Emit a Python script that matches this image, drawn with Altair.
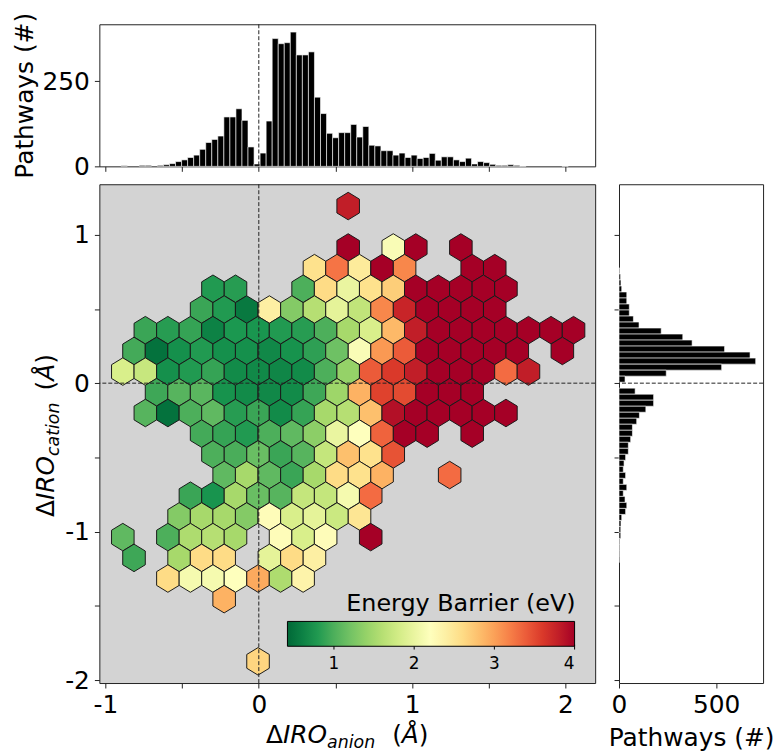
import altair as alt
import pandas as pd

FONT = "DejaVu Sans"

# ---------------- data ----------------
# Top histogram of ΔIRO_anion: uniform bins (first bin centre, bin width) and counts
top_first_center = -0.878
top_bin_width = 0.0394
top_counts = [2, 0, 0, 3, 3, 0, 3, 5, 8, 14,
              19, 26, 33, 50, 70, 79, 89, 145, 145, 169,
              135, 57, 7, 39, 133, 375, 360, 363, 394, 327,
              327, 336, 203, 155, 97, 84, 99, 99, 123, 86,
              117, 62, 60, 46, 46, 33, 39, 26, 33, 23,
              26, 38, 18, 28, 28, 19, 14, 24, 7, 14,
              11, 6, 3, 3, 5, 3, 1, 0, 0, 0,
              0, 0, 0, 1]

# Right histogram of ΔIRO_cation: bins from the top down
right_first_center = 0.756
right_bin_width = 0.0405
right_counts = [3, 8, 10, 14, 40, 40, 53, 53, 74, 103,
                217, 328, 376, 543, 674, 703, 528, 243, 31, 0,
                83, 178, 178, 138, 105, 91, 69, 69, 60, 48,
                48, 34, 26, 22, 34, 22, 40, 22, 31, 40,
                34, 14, 10, 9, 9, 3, 2, 2, 1]

# Hexbin cells: one row per hexagon row (centre y), centre x values and energy barrier (eV)
hex_rows_y = [1.193, 0.914, 0.775, 0.636, 0.496, 0.357, 0.217, 0.078, -0.061, -0.201,
              -0.340, -0.480, -0.619, -0.758, -0.898, -1.037, -1.177, -1.316, -1.455, -1.874]
hex_rows_x = [
    [0.583],
    [0.583, 0.877, 1.024, 1.318],
    [0.363, 0.510, 0.657, 0.804, 0.951, 1.392, 1.539],
    [-0.299, -0.152, 0.289, 0.436, 0.583, 0.730, 0.877, 1.024, 1.171, 1.318, 1.465, 1.612],
    [-0.373, -0.226, -0.079, 0.069, 0.216, 0.363, 0.510, 0.657, 0.804, 0.951, 1.098, 1.245, 1.392, 1.539],
    [-0.740, -0.593, -0.446, -0.299, -0.152, -0.005, 0.142, 0.289, 0.436, 0.583, 0.730, 0.877, 1.024,
     1.171, 1.318, 1.465, 1.612, 1.759, 1.906, 2.053],
    [-0.814, -0.667, -0.520, -0.373, -0.226, -0.079, 0.069, 0.216, 0.363, 0.510, 0.657, 0.804, 0.951,
     1.098, 1.245, 1.392, 1.539, 1.686, 1.980],
    [-0.887, -0.740, -0.593, -0.446, -0.299, -0.152, -0.005, 0.142, 0.289, 0.436, 0.583, 0.730, 0.877,
     1.024, 1.171, 1.318, 1.465, 1.612, 1.759],
    [-0.667, -0.520, -0.373, -0.226, -0.079, 0.069, 0.216, 0.363, 0.510, 0.657, 0.804, 0.951, 1.098,
     1.245, 1.392],
    [-0.740, -0.593, -0.446, -0.299, -0.152, -0.005, 0.142, 0.289, 0.436, 0.583, 0.730, 0.877, 1.024,
     1.171, 1.318, 1.465, 1.612],
    [-0.373, -0.226, -0.079, 0.069, 0.216, 0.363, 0.510, 0.657, 0.804, 0.951, 1.098, 1.392],
    [-0.299, -0.152, -0.005, 0.142, 0.289, 0.436, 0.583, 0.730, 0.877],
    [-0.226, -0.079, 0.069, 0.216, 0.363, 0.510, 0.657, 0.804, 1.245],
    [-0.446, -0.299, -0.152, -0.005, 0.142, 0.289, 0.436, 0.583, 0.730],
    [-0.520, -0.373, -0.226, -0.079, 0.069, 0.216, 0.363, 0.510, 0.657],
    [-0.887, -0.593, -0.446, -0.299, -0.152, 0.142, 0.289, 0.436, 0.730],
    [-0.814, -0.520, -0.373, -0.226, 0.069, 0.216, 0.363],
    [-0.593, -0.446, -0.299, -0.152, -0.005, 0.142, 0.289],
    [-0.226],
    [-0.005],
]
hex_rows_e = [
    [3.8],
    [4.0, 2.15, 4.0, 4.0],
    [2.55, 3.25, 2.45, 4.0, 3.15, 4.0, 4.0],
    [0.8, 0.82, 1.0, 2.6, 2.0, 2.55, 2.7, 4.0, 4.0, 4.0, 4.0, 4.0],
    [0.9, 0.8, 0.55, 2.4, 1.3, 1.6, 1.95, 1.68, 3.15, 3.75, 4.0, 4.0, 4.0, 4.0],
    [0.9, 0.82, 0.88, 0.62, 0.78, 0.76, 0.8, 0.82, 1.0, 1.5, 1.85, 2.85, 3.8,
     4.0, 4.0, 4.0, 4.0, 4.0, 4.0, 4.0],
    [0.95, 0.5, 0.72, 0.8, 0.72, 0.72, 0.66, 0.74, 0.85, 1.18, 2.15, 3.05, 3.4,
     4.0, 4.0, 4.0, 4.0, 4.0, 4.0],
    [1.85, 1.72, 0.72, 0.8, 0.88, 0.68, 0.67, 0.65, 0.68, 1.0, 1.4, 3.4, 3.6,
     3.8, 4.0, 4.0, 4.0, 3.3, 3.8],
    [0.92, 1.05, 1.07, 0.74, 0.68, 0.66, 0.68, 0.92, 1.45, 2.9, 3.55, 3.5, 4.0, 4.0, 4.0],
    [1.05, 0.5, 1.0, 1.1, 0.82, 0.9, 0.68, 0.88, 1.5, 1.6, 2.8, 3.9, 4.0, 4.0, 4.0, 4.0, 4.0],
    [0.95, 0.88, 0.8, 1.0, 1.1, 1.35, 2.0, 2.2, 3.35, 4.0, 4.0, 4.0],
    [1.0, 0.98, 1.15, 0.9, 1.05, 1.7, 2.8, 2.55, 3.45],
    [1.1, 1.5, 1.1, 0.9, 1.5, 2.6, 2.55, 2.9, 3.3],
    [0.9, 0.75, 1.5, 1.15, 1.05, 1.7, 1.7, 2.1, 3.3],
    [1.3, 1.5, 1.5, 1.3, 2.25, 1.85, 1.95, 1.75, 2.5],
    [1.1, 1.0, 1.55, 1.6, 1.5, 2.25, 1.85, 2.25, 4.0],
    [0.92, 1.5, 2.6, 2.6, 1.95, 2.6, 2.4],
    [2.6, 2.1, 2.1, 2.2, 2.95, 1.55, 2.35],
    [2.9],
    [2.65],
]

# colour map (RdYlGn reversed) and colour-bar ticks
cmap_domain = [0.42, 0.778, 1.136, 1.494, 1.852, 2.21, 2.568, 2.926, 3.284, 3.642, 4.0]
cmap_colors = ["#006837", "#1a9850", "#66bd63", "#a6d96a", "#d9ef8b", "#ffffbf",
               "#fee08b", "#fdae61", "#f46d43", "#d73027", "#a50026"]
cbar_ticks = [1, 2, 3, 4]

x_ticks = [-1, -0.5, 0, 0.5, 1, 1.5, 2]
y_ticks = [-2, -1.5, -1, -0.5, 0, 0.5, 1]
top_count_ticks = [0, 250]
right_count_ticks = [0, 500]
zero_line = [0]

# ---------------- tables ----------------
top_rows = []
for k, c in enumerate(top_counts):
    if c > 0:
        ctr = top_first_center + k * top_bin_width
        top_rows.append({"lo": ctr - top_bin_width / 2, "hi": ctr + top_bin_width / 2,
                         "count": c, "zero": 0})
top_df = pd.DataFrame(top_rows)

right_rows = []
for k, c in enumerate(right_counts):
    if c > 0:
        ctr = right_first_center - k * right_bin_width
        right_rows.append({"lo": ctr - right_bin_width / 2, "hi": ctr + right_bin_width / 2,
                           "count": c, "zero": 0})
right_df = pd.DataFrame(right_rows)

hex_records = []
for yv, xs, es in zip(hex_rows_y, hex_rows_x, hex_rows_e):
    for xv, ev in zip(xs, es):
        hex_records.append({"x": xv, "y": yv, "e": ev})
hex_df = pd.DataFrame(hex_records)
zero_df = pd.DataFrame({"v": zero_line})
cbar_df = pd.DataFrame({"t": cbar_ticks})

# ---------------- scales / axes ----------------
XDOM = [-1.04, 2.194]
YDOM = [-2.02, 1.34]
W_MAIN, H_MAIN = 499, 502
H_TOP = 143
W_RIGHT = 145

# colour bar placement inside the main panel (pixels from its top-left corner)
CB_X0, CB_LEN = 189.3, 289
CB_Y0, CB_THICK = 438.3, 25

xscale = alt.Scale(domain=XDOM, nice=False, zero=False)
yscale = alt.Scale(domain=YDOM, nice=False, zero=False)
LAB = "datum.value % 1 == 0 ? '' + datum.value : ''"

x_axis_main = alt.Axis(values=x_ticks, labelExpr=LAB, title=None)
y_axis_main = alt.Axis(values=y_ticks, labelExpr=LAB, title=None)

HEX = "M0,-1L0.8195,-0.5L0.8195,0.5L0,1L-0.8195,0.5L-0.8195,-0.5Z"
DASH = dict(color="#222222", strokeDash=[4, 2], strokeWidth=1)

# ---------------- main hexbin panel ----------------
hexes = alt.Chart(hex_df).mark_point(
    shape=HEX, size=767, filled=True, opacity=1, stroke="#1a1a1a", strokeWidth=1
).encode(
    x=alt.X("x:Q", scale=xscale, axis=x_axis_main),
    y=alt.Y("y:Q", scale=yscale, axis=y_axis_main),
    color=alt.Color(
        "e:Q",
        scale=alt.Scale(domain=cmap_domain, range=cmap_colors, clamp=True),
        legend=alt.Legend(
            orient="none", legendX=CB_X0, legendY=411, direction="horizontal",
            gradientLength=CB_LEN, gradientThickness=CB_THICK,
            title="Energy Barrier (eV)", titleFont=FONT, titleFontSize=24, titleLimit=600,
            titleFontWeight="normal", titleColor="black", titleAnchor="end", titlePadding=5,
            labelFont=FONT, labelFontSize=17, labelColor="black", labelOffset=10,
            labelAlign="center", values=cbar_ticks,
            gradientStrokeColor="black", gradientStrokeWidth=1,
        ),
    ),
)

vline = alt.Chart(zero_df).mark_rule(**DASH).encode(x=alt.X("v:Q", scale=xscale, axis=x_axis_main))
hline = alt.Chart(zero_df).mark_rule(**DASH).encode(y=alt.Y("v:Q", scale=yscale, axis=y_axis_main))


def piece(txt, x, y, size=25, italic=False, angle=0):
    kw = dict(align="left", baseline="alphabetic", font=FONT, fontSize=size,
              fontStyle="italic" if italic else "normal", color="black")
    if angle:
        kw["angle"] = angle
    return alt.Chart(pd.DataFrame({"t": [txt]})).mark_text(**kw).encode(
        text="t:N", x=alt.value(x), y=alt.value(y))


# x axis title: ΔIRO_anion  (Å)
XB, XS = 562.7, 567.5
x_title = [
    piece("Δ", 167.7, XB),
    piece("IRO", 184.8, XB, italic=True),
    piece("anion", 229.2, XS, size=17.5, italic=True),
    piece("(", 294.7, XB),
    piece("Å", 304.45, XB, italic=True),
    piece(")", 321.55, XB),
]
# y axis title: ΔIRO_cation (Å), rotated
YB, YS = -45.7, -40.7
y_title = [
    piece("Δ", YB, 335, angle=270),
    piece("IRO", YB, 317.9, italic=True, angle=270),
    piece("cation", YS, 273.5, size=17.5, italic=True, angle=270),
    piece("(", YB, 207.6, angle=270),
    piece("Å", YB, 197.85, italic=True, angle=270),
    piece(")", YB, 180.75, angle=270),
]

main_core = alt.layer(hexes, vline, hline, *x_title, *y_title)

# small tick marks under the colour bar, positioned through the colour-bar value scale
cbar_tick_marks = alt.Chart(cbar_df).mark_rule(color="black", strokeWidth=1).encode(
    x=alt.X("t:Q", scale=alt.Scale(domain=[cmap_domain[0], cmap_domain[-1]],
                                   range=[CB_X0, CB_X0 + CB_LEN], nice=False, zero=False),
            axis=None),
    y=alt.value(CB_Y0 + CB_THICK),
    y2=alt.value(CB_Y0 + CB_THICK + 5),
)

main = alt.layer(main_core, cbar_tick_marks).resolve_scale(x="independent").properties(
    width=W_MAIN, height=H_MAIN,
    view=alt.ViewBackground(fill="#d3d3d3", stroke="#222222", strokeWidth=1),
)

# ---------------- top histogram ----------------
top_bars = alt.Chart(top_df).mark_rect(color="black", stroke="white", strokeWidth=0.6).encode(
    x=alt.X("lo:Q", scale=xscale, axis=alt.Axis(values=x_ticks, labels=False, title=None)),
    x2="hi:Q",
    y=alt.Y("zero:Q", scale=alt.Scale(domain=[0, 417], nice=False),
            axis=alt.Axis(values=top_count_ticks, title="Pathways (#)", titlePadding=5)),
    y2="count:Q",
)
top_v = alt.Chart(zero_df).mark_rule(**DASH).encode(
    x=alt.X("v:Q", scale=xscale, axis=alt.Axis(values=x_ticks, labels=False, title=None)))
top = alt.layer(top_bars, top_v).properties(width=W_MAIN, height=H_TOP)

# ---------------- right histogram ----------------
right_bars = alt.Chart(right_df).mark_rect(color="black", stroke="white", strokeWidth=0.6).encode(
    y=alt.Y("lo:Q", scale=yscale, axis=alt.Axis(values=y_ticks, labels=False, title=None)),
    y2="hi:Q",
    x=alt.X("zero:Q", scale=alt.Scale(domain=[0, 741], nice=False),
            axis=alt.Axis(values=right_count_ticks, title="Pathways (#)", titlePadding=8)),
    x2="count:Q",
)
right_h = alt.Chart(zero_df).mark_rule(**DASH).encode(
    y=alt.Y("v:Q", scale=yscale, axis=alt.Axis(values=y_ticks, labels=False, title=None)))
right = alt.layer(right_bars, right_h).properties(width=W_RIGHT, height=H_MAIN)

bottom_row = alt.hconcat(main, right, spacing=11).resolve_scale(
    color="independent").resolve_legend(color="independent")

chart = alt.vconcat(top, bottom_row, spacing=3).resolve_scale(
    color="independent").resolve_legend(color="independent").properties(
    padding={"left": 11, "top": 9, "right": 0, "bottom": 0},
    background="white",
).configure(font=FONT).configure_view(
    stroke="#222222", strokeWidth=1
).configure_axis(
    labelFont=FONT, labelFontSize=25, labelColor="black",
    titleFont=FONT, titleFontSize=25, titleFontWeight="normal", titleColor="black",
    tickColor="#222222", tickSize=5, tickWidth=1, domain=False, grid=False,
    labelPadding=5, labelFlush=False, labelOverlap=False,
)

chart.save("out.html", embed_options={"renderer": "svg", "actions": False})
